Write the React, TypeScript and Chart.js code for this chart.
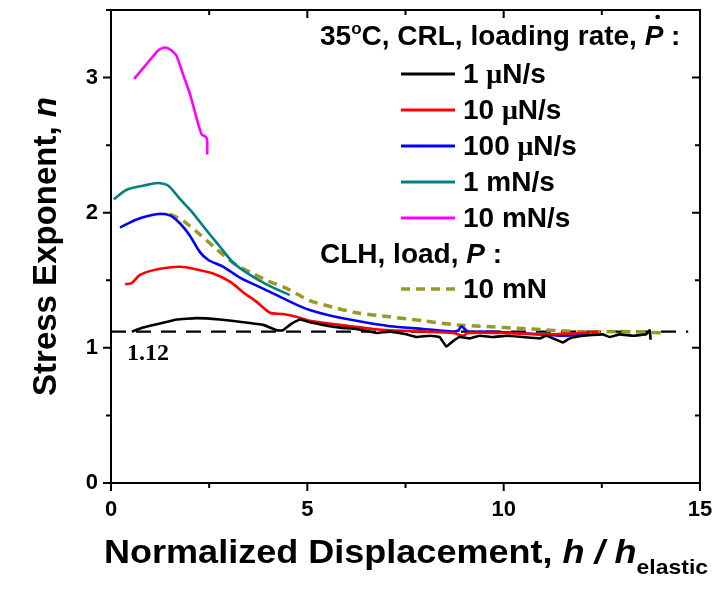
import React, { useEffect, useRef } from 'react';
import { Chart, registerables } from 'chart.js';

Chart.register(...registerables);

const SANS = "'Liberation Sans', Arial, Helvetica, sans-serif";
const SERIF = "'Liberation Serif', 'Times New Roman', serif";

// ---------- data ----------
const x10mNs = [0.59, 0.82, 1.08, 1.2, 1.33, 1.42, 1.54, 1.67, 1.84, 2.01, 2.18, 2.31, 2.42, 2.45, 2.45];
const n10mNs = [2.99, 3.07, 3.16, 3.2, 3.22, 3.22, 3.2, 3.16, 3.02, 2.88, 2.7, 2.58, 2.56, 2.53, 2.43];

const x1mNs = [0.07, 0.4, 0.82, 1.2, 1.46, 1.76, 2.05, 2.43, 2.77, 3.11, 3.54, 3.96, 4.55];
const n1mNs = [2.1, 2.17, 2.2, 2.22, 2.2, 2.1, 2.01, 1.87, 1.75, 1.63, 1.54, 1.47, 1.39];

const x100uNs = [0.23, 0.65, 1.2, 1.5, 1.76, 2.01, 2.26, 2.48, 2.86, 3.28, 3.71, 4.22, 4.72, 5.06, 5.57, 6.25, 7.1, 7.95, 8.71, 8.85, 8.92, 9.09, 9.39, 10.41, 11.51, 12.19];
const n100uNs = [1.89, 1.95, 1.99, 1.98, 1.92, 1.83, 1.71, 1.65, 1.6, 1.52, 1.46, 1.39, 1.32, 1.28, 1.24, 1.2, 1.16, 1.14, 1.12, 1.13, 1.16, 1.12, 1.12, 1.11, 1.09, 1.1];

const x10uNs = [0.36, 0.53, 0.74, 1.16, 1.76, 2.18, 2.6, 3.03, 3.37, 3.71, 4.05, 4.38, 4.72, 5.06, 5.83, 6.67, 7.1, 7.95, 8.71, 8.96, 9.1, 10.0, 11.0, 12.0, 12.4];
const n10uNs = [1.47, 1.48, 1.54, 1.58, 1.6, 1.58, 1.55, 1.49, 1.41, 1.34, 1.26, 1.25, 1.23, 1.2, 1.17, 1.14, 1.13, 1.12, 1.11, 1.09, 1.11, 1.11, 1.1, 1.11, 1.12];

const x1uNs = [0.53, 0.82, 1.25, 1.67, 2.18, 2.77, 3.37, 3.88, 4.22, 4.38, 4.6, 4.81, 5.06, 5.4, 5.83, 6.25, 6.76, 7.1, 7.52, 7.78, 8.12, 8.37, 8.54, 8.71, 8.88, 9.14, 9.39, 9.73, 10.07, 10.49, 10.92, 11.09, 11.51, 11.68, 12.02, 12.52, 12.7, 12.95, 13.29, 13.63, 13.72, 13.74];
const n1uNs = [1.12, 1.15, 1.18, 1.21, 1.22, 1.21, 1.19, 1.17, 1.13, 1.13, 1.18, 1.21, 1.19, 1.17, 1.15, 1.14, 1.11, 1.12, 1.1, 1.08, 1.09, 1.08, 1.01, 1.05, 1.08, 1.07, 1.09, 1.08, 1.09, 1.08, 1.07, 1.09, 1.04, 1.07, 1.09, 1.1, 1.08, 1.1, 1.09, 1.1, 1.13, 1.06];

const xCLH10mN = [1.5, 1.84, 2.26, 2.69, 3.11, 3.54, 3.96, 4.47, 5.06, 5.66, 6.25, 7.1, 7.95, 8.8, 9.39, 10.66, 11.93, 13.21, 14.14];
const nCLH10mN = [1.99, 1.94, 1.84, 1.73, 1.63, 1.56, 1.5, 1.44, 1.35, 1.3, 1.26, 1.23, 1.2, 1.17, 1.16, 1.14, 1.12, 1.12, 1.11];

const refN = 1.12;
const refX = [0, 14.7];

const rateLabels = ['1 μN/s', '10 μN/s', '100 μN/s', '1 mN/s', '10 mN/s'];
const loadLabels = ['10 mN'];

const xMajor = [0, 5, 10, 15];
const xMinor = [2.5, 7.5, 12.5];
const yMajor = [0, 1, 2, 3];
const yMinor = [0.5, 1.5, 2.5, 3.5];

const pts = (xs: number[], ys: number[]) => xs.map((x, i) => ({ x, y: ys[i] }));

type Run = { t: string; font: string; dy?: number };

function runsWidth(ctx: CanvasRenderingContext2D, runs: Run[]) {
  let w = 0;
  for (const r of runs) {
    ctx.font = r.font;
    w += ctx.measureText(r.t).width;
  }
  return w;
}

function drawRuns(ctx: CanvasRenderingContext2D, x: number, y: number, runs: Run[]) {
  const starts: number[] = [];
  let cx = x;
  for (const r of runs) {
    ctx.font = r.font;
    starts.push(cx);
    ctx.fillText(r.t, cx, y + (r.dy || 0));
    cx += ctx.measureText(r.t).width;
  }
  return starts;
}

function labelRuns(label: string, size: number): Run[] {
  const B = `bold ${size}px ${SANS}`;
  const i = label.indexOf('μ');
  if (i < 0) return [{ t: label, font: B }];
  return [
    { t: label.slice(0, i), font: B },
    { t: 'μ', font: `bold ${size}px ${SERIF}` },
    { t: label.slice(i + 1), font: B },
  ];
}

const decorPlugin = {
  id: 'decor',
  afterDraw(chart: any) {
    const { ctx, chartArea: a, scales } = chart;
    const xs = scales.x;
    const ys = scales.y;
    ctx.save();
    // frame
    ctx.strokeStyle = '#000';
    ctx.lineWidth = 2;
    ctx.strokeRect(a.left, a.top, a.right - a.left, a.bottom - a.top);
    // ticks
    ctx.beginPath();
    const xt = (v: number, len: number) => {
      const p = xs.getPixelForValue(v);
      ctx.moveTo(p, a.bottom);
      ctx.lineTo(p, a.bottom + len);
      ctx.moveTo(p, a.top);
      ctx.lineTo(p, a.top + len);
    };
    const yt = (v: number, len: number) => {
      const p = ys.getPixelForValue(v);
      ctx.moveTo(a.left, p);
      ctx.lineTo(a.left - len, p);
      ctx.moveTo(a.right, p);
      ctx.lineTo(a.right - len, p);
    };
    xMajor.forEach((v) => xt(v, 8));
    xMinor.forEach((v) => xt(v, 5));
    yMajor.forEach((v) => yt(v, 8));
    yMinor.forEach((v) => yt(v, 5));
    ctx.stroke();

    ctx.fillStyle = '#000';
    ctx.textBaseline = 'alphabetic';
    ctx.textAlign = 'left';

    // x title
    const xRuns: Run[] = [
      { t: 'Normalized Displacement, ', font: `bold 33px ${SANS}` },
      { t: 'h', font: `italic bold 33px ${SANS}` },
      { t: ' / ', font: `italic bold 33px ${SANS}` },
      { t: 'h', font: `italic bold 33px ${SANS}` },
      { t: 'elastic', font: `bold 21px ${SANS}`, dy: 11 },
    ];
    const xw = runsWidth(ctx, xRuns);
    ctx.save();
    ctx.translate(104, 563);
    ctx.scale(604 / xw, 1);
    drawRuns(ctx, 0, 0, xRuns);
    ctx.restore();

    // y title
    const yRuns: Run[] = [
      { t: 'Stress Exponent, ', font: `bold 33px ${SANS}` },
      { t: 'n', font: `italic bold 33px ${SANS}` },
    ];
    const yw = runsWidth(ctx, yRuns);
    ctx.save();
    ctx.translate(56, (a.top + a.bottom) / 2 + yw / 2);
    ctx.rotate(-Math.PI / 2);
    drawRuns(ctx, 0, 0, yRuns);
    ctx.restore();

    // legend
    const B28 = `bold 28px ${SANS}`;
    const I28 = `italic bold 28px ${SANS}`;
    const titleStarts = drawRuns(ctx, 320, 45, [
      { t: '35', font: B28 },
      { t: 'o', font: `bold 17px ${SANS}`, dy: -11 },
      { t: 'C, CRL, loading rate, ', font: B28 },
      { t: 'P', font: I28 },
      { t: ' :', font: B28 },
    ]);
    // dot over P (P-dot: loading rate)
    ctx.beginPath();
    ctx.arc(titleStarts[3] + 13, 17, 2.3, 0, Math.PI * 2);
    ctx.fill();

    const colors = chart.data.datasets;
    const rowY = [83, 119, 155, 191, 227];
    rateLabels.forEach((lab, i) => {
      const ds = colors[i];
      ctx.strokeStyle = ds.borderColor;
      ctx.lineWidth = 3;
      ctx.setLineDash([]);
      ctx.beginPath();
      ctx.moveTo(401, rowY[i] - 9);
      ctx.lineTo(455, rowY[i] - 9);
      ctx.stroke();
      drawRuns(ctx, 463, rowY[i], labelRuns(lab, 28));
    });
    drawRuns(ctx, 320, 263, [
      { t: 'CLH, load, ', font: B28 },
      { t: 'P', font: I28 },
      { t: ' :', font: B28 },
    ]);
    const clh = colors[5];
    ctx.strokeStyle = clh.borderColor;
    ctx.lineWidth = 3.5;
    ctx.setLineDash([9, 6]);
    ctx.beginPath();
    ctx.moveTo(401, 289);
    ctx.lineTo(455, 289);
    ctx.stroke();
    ctx.setLineDash([]);
    drawRuns(ctx, 463, 298, labelRuns(loadLabels[0], 28));

    // annotation of the reference value
    ctx.font = `bold 24px ${SERIF}`;
    ctx.fillText(refN.toFixed(2), 127, 360);
    ctx.restore();
  },
};

export default function App() {
  const ref = useRef<HTMLCanvasElement>(null);
  useEffect(() => {
    document.body.style.margin = '0';
    const line = (label: string, xs: number[], ys: number[], color: string, extra: any = {}) => ({
      label,
      data: pts(xs, ys),
      borderColor: color,
      backgroundColor: color,
      borderWidth: 2.6,
      pointRadius: 0,
      showLine: true,
      fill: false,
      tension: 0.25,
      ...extra,
    });
    const chart = new Chart(ref.current as HTMLCanvasElement, {
      type: 'scatter',
      data: {
        datasets: [
          line(rateLabels[0], x1uNs, n1uNs, '#000000', { tension: 0.1 }),
          line(rateLabels[1], x10uNs, n10uNs, '#ff0000'),
          line(rateLabels[2], x100uNs, n100uNs, '#0000ff'),
          line(rateLabels[3], x1mNs, n1mNs, '#008080'),
          line(rateLabels[4], x10mNs, n10mNs, '#ff00ff'),
          line(loadLabels[0], xCLH10mN, nCLH10mN, '#999926', { borderDash: [9, 6], borderWidth: 3.5 }),
          line('n = 1.12', refX, [refN, refN], '#000000', { borderDash: [15, 10], borderWidth: 2.4, tension: 0 }),
        ],
      },
      options: {
        responsive: false,
        animation: false,
        layout: { padding: { top: 10, right: 17, left: 0, bottom: 0 } },
        plugins: { legend: { display: false }, tooltip: { enabled: false } },
        scales: {
          x: {
            type: 'linear',
            min: 0,
            max: 15,
            grid: { display: false, drawTicks: false },
            border: { display: false },
            ticks: { stepSize: 5, padding: 14, color: '#000', maxRotation: 0, font: { family: SANS, size: 22, weight: 'bold' } },
            afterFit: (s: any) => {
              s.height = 109;
              s.paddingLeft = 0;
              s.paddingRight = 0;
            },
          },
          y: {
            type: 'linear',
            min: 0,
            max: 3.5,
            grid: { display: false, drawTicks: false },
            border: { display: false },
            ticks: { stepSize: 1, padding: 13, color: '#000', font: { family: SANS, size: 22, weight: 'bold' } },
            afterBuildTicks: (s: any) => {
              s.ticks = s.ticks.filter((t: any) => Number.isInteger(t.value));
            },
            afterFit: (s: any) => {
              s.width = 111;
              s.paddingTop = 0;
              s.paddingBottom = 0;
            },
          },
        },
      },
      plugins: [decorPlugin],
    } as any);
    return () => chart.destroy();
  }, []);
  return (
    <div style={{ width: 717, height: 592, background: '#fff' }}>
      <canvas ref={ref} width={717} height={592} style={{ display: 'block', width: 717, height: 592 }} />
    </div>
  );
}
